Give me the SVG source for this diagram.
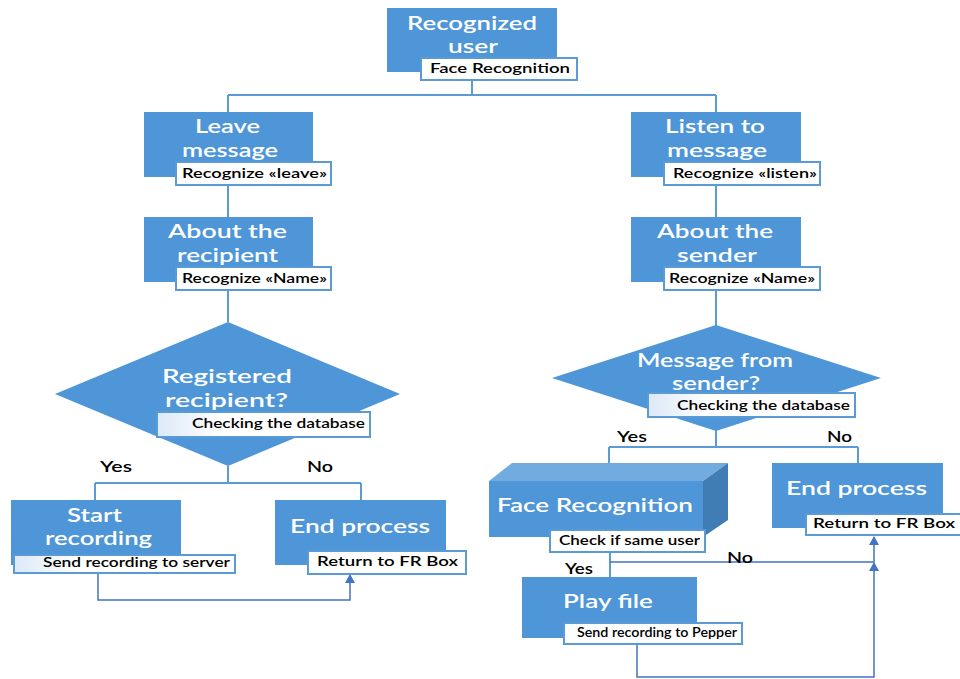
<svg xmlns="http://www.w3.org/2000/svg" width="960" height="679" viewBox="0 0 960 679">
<defs>
<style>
.box{fill:#4e96d7;}
.lbl{fill:#ffffff;stroke:#5b9bd5;stroke-width:2;}
.lblg{fill:url(#g1);stroke:#5b9bd5;stroke-width:2;}
.t{font-family:Lato,"Open Sans",sans-serif;font-size:20px;font-weight:600;fill:#ffffff;}
.s{font-family:Lato,"Open Sans",sans-serif;font-size:13px;font-weight:600;fill:#000000;}
.yn{font-family:Lato,"Open Sans",sans-serif;font-size:16px;font-weight:600;fill:#000000;}
.ln{fill:none;stroke:#5b9bd5;stroke-width:2;}
.ar{fill:none;stroke:#4472c4;stroke-width:1.5;}
</style>
<linearGradient id="g1" x1="0" y1="0" x2="1" y2="0">
<stop offset="0" stop-color="#dce9f7"/>
<stop offset="0.3" stop-color="#ffffff"/>
</linearGradient>
<marker id="arr" markerWidth="10" markerHeight="10" refX="8" refY="5" orient="auto" markerUnits="userSpaceOnUse">
<path d="M0,0 L9,5 L0,10 z" fill="#4472c4"/>
</marker>
</defs>
<rect width="960" height="679" fill="#ffffff"/>

<g id="connectors">
<path class="ln" d="M472,80 V95 M228,95 H716 M228,95 V112 M716,95 V112"/>
<path class="ln" d="M228,185 V217 M228,290 V322 M716,185 V217 M716,290 V326"/>
<path class="ln" d="M228,466 V483 M95,483 H361 M95,483 V500 M361,483 V500"/>
<path class="ln" d="M716,430 V447 M609,447 H858 M609,447 V463 M858,447 V463"/>
<path class="ln" d="M610,552 V577"/>
<path class="ar" d="M98,573 V600 H350 V575" marker-end="url(#arr)"/>
<path class="ar" d="M610,562 H874 V537" marker-end="url(#arr)"/>
<path class="ar" d="M637,644 V677 H874 V563" marker-end="url(#arr)"/>
<text class="yn" x="727" y="563" textLength="26" lengthAdjust="spacingAndGlyphs">No</text>
<text class="yn" x="565" y="574" textLength="28" lengthAdjust="spacingAndGlyphs">Yes</text>
</g>

<g id="recognized-user">
<rect class="box" x="387" y="8" width="170" height="64"/>
<text class="t" x="407" y="30" textLength="130" lengthAdjust="spacingAndGlyphs">Recognized</text>
<text class="t" x="448" y="53" textLength="50" lengthAdjust="spacingAndGlyphs">user</text>
<rect class="lbl" x="421" y="58" width="156" height="22"/>
<text class="s" x="430" y="73" textLength="140" lengthAdjust="spacingAndGlyphs">Face Recognition</text>
</g>

<g id="leave-message">
<rect class="box" x="144" y="112" width="169" height="65"/>
<text class="t" x="195" y="133" textLength="65" lengthAdjust="spacingAndGlyphs">Leave</text>
<text class="t" x="182" y="157" textLength="96" lengthAdjust="spacingAndGlyphs">message</text>
<rect class="lbl" x="176" y="162" width="155" height="23"/>
<text class="s" x="182" y="178" textLength="145" lengthAdjust="spacingAndGlyphs">Recognize  «leave»</text>
</g>

<g id="about-recipient">
<rect class="box" x="144" y="217" width="169" height="65"/>
<text class="t" x="168" y="238" textLength="119" lengthAdjust="spacingAndGlyphs">About the</text>
<text class="t" x="177" y="262" textLength="101" lengthAdjust="spacingAndGlyphs">recipient</text>
<rect class="lbl" x="176" y="267" width="155" height="23"/>
<text class="s" x="182" y="283" textLength="145" lengthAdjust="spacingAndGlyphs">Recognize «Name»</text>
</g>

<g id="registered-recipient">
<polygon class="box" points="228,322 400,394 228,466 55,394"/>
<text class="t" x="162" y="383" textLength="130" lengthAdjust="spacingAndGlyphs">Registered</text>
<text class="t" x="165" y="407" textLength="123" lengthAdjust="spacingAndGlyphs">recipient?</text>
<rect class="lblg" x="157" y="412" width="213" height="25"/>
<text class="s" x="192" y="428" textLength="173" lengthAdjust="spacingAndGlyphs">Checking the database</text>
<text class="yn" x="100" y="472" textLength="32" lengthAdjust="spacingAndGlyphs">Yes</text>
<text class="yn" x="307" y="472" textLength="26" lengthAdjust="spacingAndGlyphs">No</text>
</g>

<g id="start-recording">
<rect class="box" x="11" y="500" width="170" height="65"/>
<text class="t" x="67" y="522" textLength="55" lengthAdjust="spacingAndGlyphs">Start</text>
<text class="t" x="45" y="545" textLength="107" lengthAdjust="spacingAndGlyphs">recording</text>
<rect class="lblg" x="14" y="555" width="221" height="18"/>
<text class="s" x="43" y="567" textLength="187" lengthAdjust="spacingAndGlyphs">Send recording to server</text>
</g>

<g id="end-process-left">
<rect class="box" x="275" y="500" width="171" height="65"/>
<text class="t" x="290" y="533" textLength="140" lengthAdjust="spacingAndGlyphs">End process</text>
<rect class="lbl" x="308" y="551" width="158" height="23"/>
<text class="s" x="317" y="566" textLength="141" lengthAdjust="spacingAndGlyphs">Return  to FR Box</text>
</g>

<g id="listen-message">
<rect class="box" x="631" y="112" width="170" height="65"/>
<text class="t" x="665" y="133" textLength="100" lengthAdjust="spacingAndGlyphs">Listen to</text>
<text class="t" x="667" y="157" textLength="100" lengthAdjust="spacingAndGlyphs">message</text>
<rect class="lbl" x="664" y="162" width="156" height="23"/>
<text class="s" x="673" y="178" textLength="144" lengthAdjust="spacingAndGlyphs">Recognize «listen»</text>
</g>

<g id="about-sender">
<rect class="box" x="631" y="217" width="170" height="65"/>
<text class="t" x="657" y="238" textLength="116" lengthAdjust="spacingAndGlyphs">About the</text>
<text class="t" x="677" y="262" textLength="80" lengthAdjust="spacingAndGlyphs">sender</text>
<rect class="lbl" x="664" y="267" width="156" height="23"/>
<text class="s" x="669" y="283" textLength="146" lengthAdjust="spacingAndGlyphs">Recognize «Name»</text>
</g>

<g id="message-from-sender">
<polygon class="box" points="716,325 881,378 716,431 552,378"/>
<text class="t" x="637" y="367" textLength="156" lengthAdjust="spacingAndGlyphs">Message from</text>
<text class="t" x="672" y="390" textLength="88" lengthAdjust="spacingAndGlyphs">sender?</text>
<rect class="lblg" x="648" y="393" width="207" height="24"/>
<text class="s" x="677" y="410" textLength="173" lengthAdjust="spacingAndGlyphs">Checking the database</text>
<text class="yn" x="617" y="442" textLength="30" lengthAdjust="spacingAndGlyphs">Yes</text>
<text class="yn" x="827" y="442" textLength="25" lengthAdjust="spacingAndGlyphs">No</text>
</g>

<g id="face-recognition">
<polygon points="489,481 512,463 728,463 703,481" fill="#72abdf"/>
<polygon points="703,481 728,463 728,520 703,537" fill="#3f7db4"/>
<rect class="box" x="489" y="481" width="214" height="56"/>
<text class="t" x="497" y="512" textLength="196" lengthAdjust="spacingAndGlyphs">Face Recognition</text>
<rect class="lbl" x="550" y="530" width="155" height="22"/>
<text class="s" x="559" y="545" textLength="141" lengthAdjust="spacingAndGlyphs">Check if same user</text>
</g>

<g id="end-process-right">
<rect class="box" x="772" y="463" width="171" height="65"/>
<text class="t" x="786" y="495" textLength="141" lengthAdjust="spacingAndGlyphs">End process</text>
<rect class="lbl" x="806" y="514" width="156" height="21"/>
<text class="s" x="813" y="528" textLength="142" lengthAdjust="spacingAndGlyphs">Return  to FR Box</text>
</g>

<g id="play-file">
<rect class="box" x="522" y="577" width="175" height="61"/>
<text class="t" x="563" y="608" textLength="90" lengthAdjust="spacingAndGlyphs">Play file</text>
<rect class="lbl" x="564" y="623" width="178" height="21"/>
<text class="s" x="577" y="637" font-size="12" textLength="160" lengthAdjust="spacingAndGlyphs">Send recording to Pepper</text>
</g>
</svg>
